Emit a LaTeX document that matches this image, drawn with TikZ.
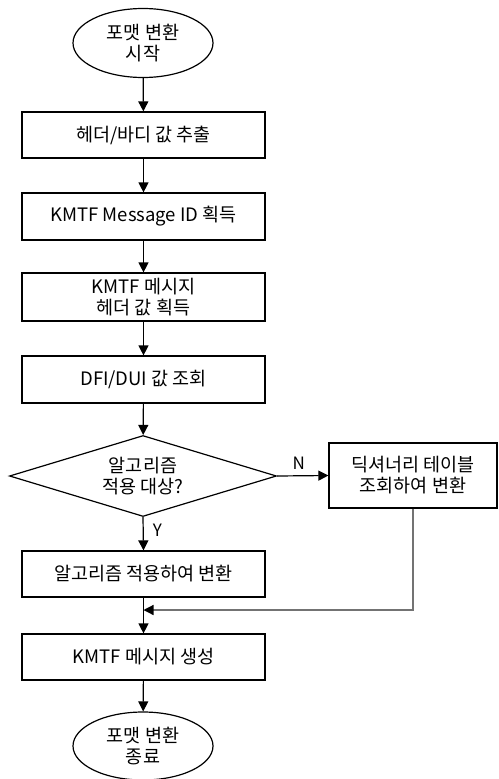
\documentclass[tikz,border=0pt]{standalone}
\usepackage{fontspec}
\setmainfont{Noto Sans CJK KR}
\usetikzlibrary{shapes.geometric,arrows.meta}
\begin{document}
\begin{tikzpicture}[x=1pt,y=-1pt,
  every node/.style={font=\fontsize{18.5}{21}\selectfont, align=center, inner sep=0pt},
  proc/.style={draw, line width=1.2pt, rectangle, minimum width=243pt},
  term/.style={draw, line width=1.2pt, ellipse, minimum width=140pt, minimum height=69pt},
  decis/.style={draw, line width=1.2pt, diamond, aspect=3.3, minimum width=267pt, minimum height=81pt},
  flow/.style={line width=1.2pt, -{Triangle[length=10pt,width=10pt]}},
  lbl/.style={font=\fontsize{17}{18}\selectfont}]
\useasboundingbox (0,0) rectangle (498,779);
\node[term] (start) at (143,43) {포맷 변환\\시작};
\node[proc, minimum height=46pt] (b1) at (143.5,135) {헤더/바디 값 추출};
\node[proc, minimum height=47pt] (b2) at (143.5,216.5) {KMTF Message ID 획득};
\node[proc, minimum height=48pt] (b3) at (143.5,297) {KMTF 메시지\\헤더 값 획득};
\node[proc, minimum height=47pt] (b4) at (143.5,379.5) {DFI/DUI 값 조회};
\node[decis] (dec) at (143,476) {알고리즘\\적용 대상?};
\node[draw, line width=1.2pt, rectangle, minimum width=168pt, minimum height=65pt] (rb) at (413,475.5) {딕셔너리 테이블\\조회하여 변환};
\node[proc, minimum height=46pt] (b5) at (143.5,574) {알고리즘 적용하여 변환};
\node[proc, minimum height=46pt] (b6) at (143.5,657) {KMTF 메시지 생성};
\node[term, minimum height=68pt] (end) at (143,746) {포맷 변환\\종료};
\coordinate (m) at (143.5,610);
\draw[flow] (start) -- (b1);
\draw[flow] (b1) -- (b2);
\draw[flow] (b2) -- (b3);
\draw[flow] (b3) -- (b4);
\draw[flow] (b4) -- (dec);
\draw[flow] (dec.east) -- (rb.west) node[lbl, pos=0.42, above=6pt] (nlab) {N};
\draw[flow] (dec.south) -- (b5.north) node[lbl, pos=0.4, right=9pt] (ylab) {Y};
\draw[flow] (b5) -- (b6);
\draw[line width=1.2pt, black!55, -{Triangle[length=10pt,width=10pt,black]}] (rb.south) |- (m);
\draw[flow] (b6) -- (end);
\end{tikzpicture}
\end{document}
